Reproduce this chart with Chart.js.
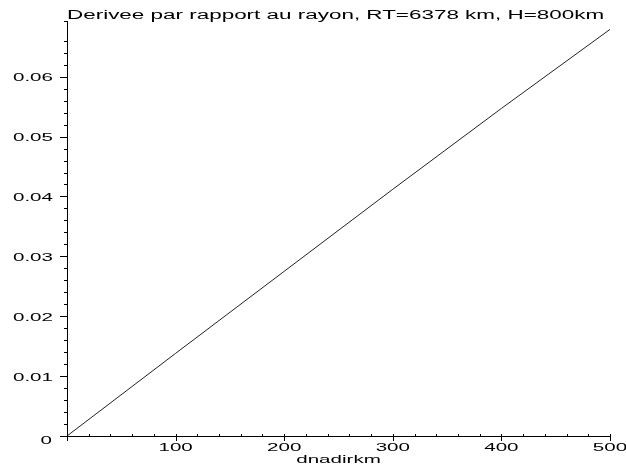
<!DOCTYPE html>
<html>
<head>
<meta charset="utf-8">
<script src="https://cdn.jsdelivr.net/npm/chart.js@4.4.1/dist/chart.umd.min.js"></script>
<style>
  html, body { margin: 0; padding: 0; background: #fff; }
  #wrap { width: 626px; height: 466px; }
</style>
</head>
<body>
<div id="wrap"><canvas id="deriveeChart" width="626" height="466"></canvas></div>
<script>
// distance au nadir (km) et derivee par rapport au rayon
const dnadirkm = [0, 100, 200, 300, 400, 500];
const derivee = [0, 0.0138, 0.0275, 0.0412, 0.0547, 0.0679];

const titre = 'Derivee par rapport au rayon, RT=6378 km, H=800km';
const titreX = 'dnadirkm';

const FONT = '"Liberation Sans", Arial, Helvetica, sans-serif';
const ETIRE = 1.87;   // police large, etiree horizontalement

function texteLarge(ctx, txt, x, y, align, taille) {
    ctx.save();
    ctx.translate(x, y);
    ctx.scale(ETIRE, 1);
    ctx.font = taille + 'px ' + FONT;
    ctx.textAlign = align;
    ctx.textBaseline = 'alphabetic';
    ctx.fillText(txt, 0, 0);
    ctx.restore();
}

// graduations facon Maple et textes etires
const graduations = {
    id: 'graduations',
    afterDraw(chart) {
        const ctx = chart.ctx;
        const xs = chart.scales.x;
        const ys = chart.scales.y;
        const ca = chart.chartArea;
        ctx.save();
        ctx.strokeStyle = '#000';
        ctx.fillStyle = '#000';
        ctx.lineWidth = 1;
        ctx.beginPath();
        xs.ticks.forEach(t => {
            const px = Math.round(xs.getPixelForValue(t.value)) + 0.5;
            const major = Math.round(t.value) % 100 === 0;
            ctx.moveTo(px, ca.bottom - 2);
            ctx.lineTo(px, ca.bottom + (major ? 5 : 0));
        });
        ys.ticks.forEach(t => {
            const py = Math.round(ys.getPixelForValue(t.value)) + 0.5;
            const major = Math.round(t.value * 1000) % 10 === 0;
            ctx.moveTo(ca.left - (major ? 7 : 3), py);
            ctx.lineTo(ca.left, py);
        });
        ctx.stroke();

        xs.ticks.forEach(t => {
            const v = Math.round(t.value);
            if (v === 0 || v % 100 !== 0) return;
            texteLarge(ctx, String(v), xs.getPixelForValue(t.value), ca.bottom + 15, 'center', 11);
        });
        ys.ticks.forEach(t => {
            const c = Math.round(t.value * 1000);
            if (c % 10 !== 0) return;
            const py = ys.getPixelForValue(t.value);
            if (c === 0) {
                texteLarge(ctx, '0', ca.left - 15, py + 8, 'right', 11);
            } else {
                texteLarge(ctx, (c / 1000).toFixed(2), ca.left - 14, py + 4.5, 'right', 11);
            }
        });

        texteLarge(ctx, titreX, (ca.left + ca.right) / 2, ca.bottom + 27, 'center', 11);
        texteLarge(ctx, titre, ca.left, 19, 'left', 12);
        ctx.restore();
    }
};

new Chart(document.getElementById('deriveeChart').getContext('2d'), {
    type: 'line',
    data: {
        labels: dnadirkm,
        datasets: [{
            data: dnadirkm.map((x, i) => ({ x: x, y: derivee[i] })),
            borderColor: '#222',
            borderWidth: 1,
            pointRadius: 0,
            tension: 0,
            fill: false
        }]
    },
    options: {
        responsive: false,
        animation: false,
        layout: { padding: { top: 21, right: 16, left: 0, bottom: 0 } },
        plugins: {
            legend: { display: false },
            title: { display: false },
            tooltip: { enabled: false }
        },
        scales: {
            x: {
                type: 'linear',
                min: 0,
                max: 500,
                grid: { display: false, drawTicks: false },
                border: { display: true, color: '#000', width: 1 },
                ticks: { display: false, stepSize: 20, autoSkip: false },
                afterFit: s => { s.height = 30; }
            },
            y: {
                type: 'linear',
                min: 0,
                max: 0.0693,
                grid: { display: false, drawTicks: false },
                border: { display: true, color: '#000', width: 1 },
                ticks: { display: false, stepSize: 0.002, autoSkip: false },
                afterFit: s => { s.width = 67; }
            }
        }
    },
    plugins: [graduations]
});
</script>
</body>
</html>
